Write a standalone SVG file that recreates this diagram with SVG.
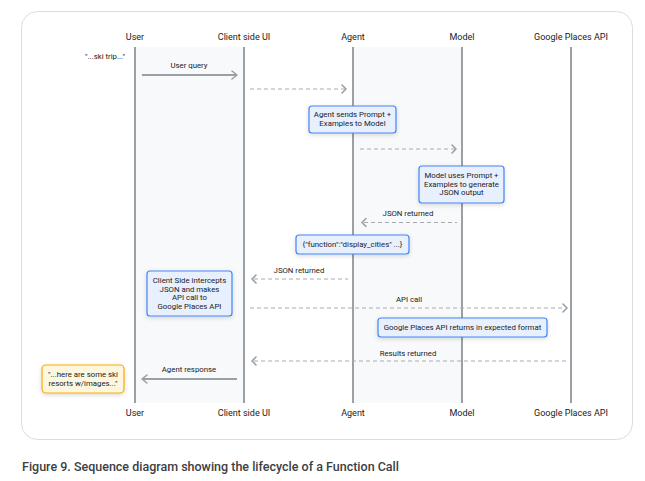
<svg xmlns="http://www.w3.org/2000/svg" width="645" height="481" viewBox="0 0 645 481">
<defs>
<style>
.hdr{font-family:Roboto,"Liberation Sans",sans-serif;font-size:9px;fill:#202124;text-anchor:middle}
.lbl{font-family:Roboto,"Liberation Sans",sans-serif;font-size:7.8px;fill:#202124;text-anchor:middle}
.life{stroke:#9aa0a6;stroke-width:2;fill:none}
.solid{stroke:#9aa0a6;stroke-width:2;fill:none}
.dash{stroke:#a8acb1;stroke-width:1.2;stroke-dasharray:4 3;fill:none}
.head{stroke:#9aa0a6;stroke-width:1.6;fill:none;stroke-linecap:round;stroke-linejoin:round}
.note{fill:#e8f0fe;stroke:#4285f4;stroke-width:1.2}
.ynote{fill:#fef7e0;stroke:#f9ab00;stroke-width:1.2}
.shade{fill:#f8f9fa}
</style>
<filter id="sh" x="-20%" y="-40%" width="140%" height="180%">
<feDropShadow dx="0" dy="1.5" stdDeviation="2" flood-color="#000" flood-opacity="0.15"/>
</filter>
</defs>
<rect width="645" height="481" fill="#ffffff"/>
<rect x="21.5" y="11.5" width="611" height="428" rx="16" fill="#ffffff" stroke="#dadce0" stroke-width="1"/>
<g id="shading">
<rect class="shade" x="135" y="47" width="109" height="356"/>
<rect class="shade" x="353" y="47" width="109" height="356"/>
</g>
<g id="lifelines">
<g id="user"><text class="hdr" x="135" y="40">User</text><line class="life" x1="135" y1="47" x2="135" y2="403"/><text class="hdr" x="135" y="416">User</text></g>
<g id="client"><text class="hdr" x="244" y="40">Client side UI</text><line class="life" x1="244" y1="47" x2="244" y2="403"/><text class="hdr" x="244" y="416">Client side UI</text></g>
<g id="agent"><text class="hdr" x="353" y="40">Agent</text><line class="life" x1="353" y1="47" x2="353" y2="403"/><text class="hdr" x="353" y="416">Agent</text></g>
<g id="model"><text class="hdr" x="462" y="40">Model</text><line class="life" x1="462" y1="47" x2="462" y2="403"/><text class="hdr" x="462" y="416">Model</text></g>
<g id="places"><text class="hdr" x="571" y="40">Google Places API</text><line class="life" x1="571" y1="47" x2="571" y2="403"/><text class="hdr" x="571" y="416">Google Places API</text></g>
</g>
<g id="connectors">
<text class="lbl" x="105" y="58.5">"...ski trip..."</text>
<text class="lbl" x="189" y="68">User query</text>
<line class="solid" x1="142" y1="75" x2="236" y2="75"/>
<polyline class="head" points="232,71 237,75 232,79"/>
<line class="dash" x1="250" y1="89" x2="345" y2="89"/>
<polyline class="head" points="342,85 346,89 342,93"/>
<line class="dash" x1="360" y1="149" x2="455" y2="149"/>
<polyline class="head" points="452,145 456,149 452,153"/>
<text class="lbl" x="408" y="216">JSON returned</text>
<line class="dash" x1="364" y1="222.5" x2="457" y2="222.5"/>
<polyline class="head" points="366,218.5 362,222.5 366,226.5"/>
<text class="lbl" x="299" y="273">JSON returned</text>
<line class="dash" x1="254" y1="279" x2="348" y2="279"/>
<polyline class="head" points="256,275 252,279 256,283"/>
<text class="lbl" x="409" y="302">API call</text>
<line class="dash" x1="250" y1="308" x2="565" y2="308"/>
<polyline class="head" points="563,304 567,308 563,312"/>
<text class="lbl" x="408" y="356">Results returned</text>
<line class="dash" x1="254" y1="361" x2="567" y2="361"/>
<polyline class="head" points="256,357 252,361 256,365"/>
<text class="lbl" x="189" y="372">Agent response</text>
<line class="solid" x1="143" y1="379" x2="237" y2="379"/>
<polyline class="head" points="147,375 142,379 147,383"/>
</g>
<g id="note-agent">
<rect class="note" filter="url(#sh)" x="309" y="106" width="87" height="27" rx="3"/>
<text class="lbl" x="352.5" y="116.8">Agent sends Prompt +</text>
<text class="lbl" x="352.5" y="125.8">Examples to Model</text>
</g>
<g id="note-model">
<rect class="note" filter="url(#sh)" x="419" y="166" width="85" height="37" rx="3"/>
<text class="lbl" x="461.5" y="177.8">Model uses Prompt +</text>
<text class="lbl" x="461.5" y="186.6">Examples to generate</text>
<text class="lbl" x="461.5" y="195.4">JSON output</text>
</g>
<g id="note-json">
<rect class="note" filter="url(#sh)" x="296" y="235" width="113" height="19" rx="3"/>
<text class="lbl" x="352.5" y="247">{"function":"display_cities" ...}</text>
</g>
<g id="note-client">
<rect class="note" filter="url(#sh)" x="147" y="271" width="85" height="45" rx="3"/>
<text class="lbl" x="189.5" y="282.8">Client Side intercepts</text>
<text class="lbl" x="189.5" y="291.6">JSON and makes</text>
<text class="lbl" x="189.5" y="300.4">API call to</text>
<text class="lbl" x="189.5" y="309.2">Google Places API</text>
</g>
<g id="note-places">
<rect class="note" filter="url(#sh)" x="378" y="318" width="169" height="19" rx="3"/>
<text class="lbl" x="462.5" y="330.3">Google Places API returns in expected format</text>
</g>
<g id="note-response">
<rect class="ynote" filter="url(#sh)" x="42" y="365" width="82" height="28" rx="4"/>
<text class="lbl" x="83" y="376.8">"...here are some ski</text>
<text class="lbl" x="83" y="385.6">resorts w/images..."</text>
</g>
<text x="22" y="471" font-family="Roboto,'Liberation Sans',sans-serif" font-size="12.5" font-weight="500" fill="#3c4043">Figure 9. Sequence diagram showing the lifecycle of a Function Call</text>
</svg>
